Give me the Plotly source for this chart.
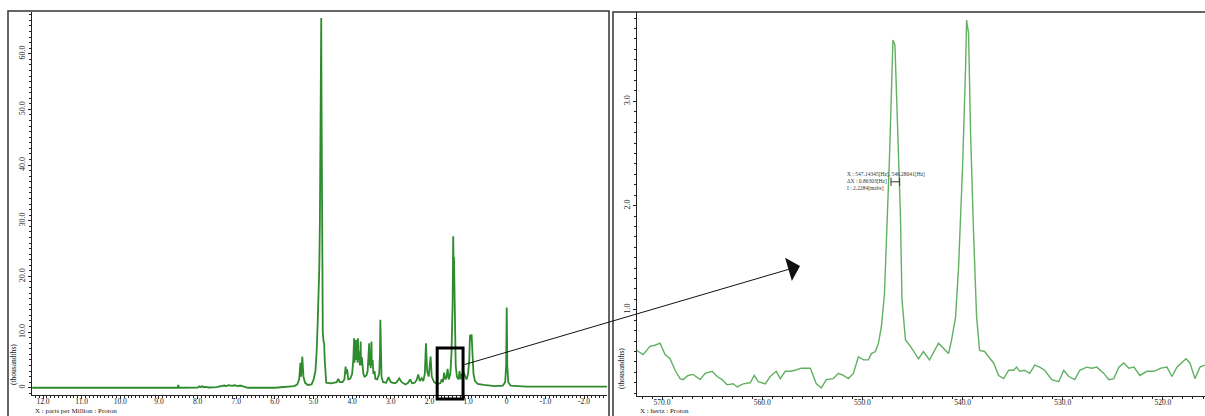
import plotly.graph_objects as go

# ---------------- data ----------------
# Left panel: full 1H spectrum, x in ppm, y in thousandths
ppm = [12.28, 8.52, 8.50, 8.48, 8.0, 7.95, 7.92, 7.88, 7.85, 7.80, 7.7, 7.5, 7.4, 7.3, 7.25,
       7.2, 7.1, 7.05, 6.95, 6.9, 6.8, 6.7, 6.0, 5.85, 5.8, 5.6, 5.5, 5.42, 5.37, 5.34,
       5.32, 5.29, 5.26, 5.22, 5.15, 5.05, 5.0, 4.95, 4.92, 4.89, 4.87, 4.85, 4.835, 4.825, 4.815,
       4.805, 4.80, 4.795, 4.785, 4.775, 4.76, 4.74, 4.725, 4.71, 4.69, 4.67, 4.55, 4.45, 4.40, 4.36,
       4.32, 4.25, 4.20, 4.17, 4.15, 4.13, 4.10, 4.05, 4.0, 3.97, 3.95, 3.94, 3.92, 3.90, 3.89,
       3.87, 3.86, 3.85, 3.84, 3.82, 3.80, 3.78, 3.77, 3.75, 3.73, 3.71, 3.68, 3.63, 3.60, 3.58,
       3.56, 3.55, 3.53, 3.52, 3.50, 3.49, 3.47, 3.45, 3.42, 3.40, 3.35, 3.30, 3.28, 3.27, 3.26,
       3.24, 3.20, 3.12, 3.06, 3.0, 2.9, 2.85, 2.78, 2.72, 2.62, 2.55, 2.50, 2.45, 2.38, 2.33,
       2.29, 2.25, 2.20, 2.16, 2.12, 2.09, 2.06, 2.02, 1.97, 1.94, 1.88, 1.80, 1.72, 1.68, 1.65,
       1.62, 1.59, 1.56, 1.53, 1.50, 1.46, 1.43, 1.40, 1.385, 1.375, 1.365, 1.355, 1.34, 1.32, 1.29,
       1.25, 1.22, 1.20, 1.18, 1.15, 1.12, 1.08, 1.04, 1.0, 0.97, 0.95, 0.93, 0.91, 0.89, 0.86,
       0.82, 0.75, 0.6, 0.3, 0.1, 0.04, 0.015, 0.0, -0.015, -0.04, -0.1, -0.5, -1.0, -2.0, -2.6]
intensity = [0.0, 0.0, 0.5, 0.0, 0.05, 0.25, 0.1, 0.3, 0.1, 0.15, 0.05, 0.1, 0.3, 0.4, 0.3,
             0.45, 0.35, 0.45, 0.3, 0.4, 0.2, 0.0, 0.0, 0.05, 0.2, 0.2, 0.3, 0.6, 1.5, 4.5,
             2.0, 5.6, 2.0, 0.9, 0.5, 0.6, 1.4, 3.0, 6.3, 12.0, 15.3, 21.8, 30.0, 42.7, 36.0,
             50.0, 66.4, 55.0, 30.0, 15.0, 10.0, 8.2, 8.0, 5.0, 2.5, 0.9, 0.8, 0.9, 1.0, 1.6,
             1.0, 1.0, 1.5, 3.8, 2.5, 3.3, 1.5, 1.6, 2.5, 5.0, 8.9, 4.5, 6.0, 8.6, 5.0,
             7.0, 4.5, 8.9, 5.0, 6.5, 4.0, 8.3, 4.0, 5.5, 3.0, 2.5, 2.0, 2.2, 3.0, 5.0,
             8.0, 4.0, 6.3, 3.5, 8.3, 4.0, 5.0, 2.5, 3.0, 1.6, 1.5, 2.5, 6.0, 12.2, 5.0,
             2.0, 1.0, 0.9, 1.9, 1.0, 0.8, 1.0, 1.7, 1.0, 0.6, 0.9, 1.5, 0.8, 0.9, 1.4,
             2.4, 1.2, 1.7, 1.2, 2.5, 8.0, 3.0, 2.0, 5.6, 2.0, 1.0, 0.7, 0.8, 1.5, 1.0,
             2.7, 1.5, 1.8, 3.4, 1.5, 2.5, 6.0, 15.0, 27.2, 22.0, 23.5, 18.0, 8.0, 4.0, 2.0,
             1.5, 3.0, 1.5, 2.5, 1.7, 2.8, 2.0, 1.5, 2.5, 5.0, 9.5, 8.5, 9.6, 6.0, 2.5,
             1.2, 0.7, 0.5, 0.3, 0.4, 1.0, 4.0, 14.4, 4.0, 1.0, 0.4, 0.2, 0.2, 0.2, 0.2]

# Right panel: expanded region, x in Hz, y in thousandths
hz = [572.5, 571.9, 571.2, 570.7, 570.2, 569.7, 569.2, 568.7, 568.2, 567.9, 567.4, 566.9, 566.2,
      565.7, 565.0, 564.5, 564.0, 563.5, 562.9, 562.5, 561.9, 561.2, 560.8, 560.4, 559.7, 559.2,
      558.6, 558.2, 557.7, 557.2, 556.7, 556.1, 555.2, 554.9, 554.6, 554.1, 553.6, 552.9, 552.4,
      551.9, 551.4, 550.9, 550.4, 549.9, 549.4, 549.1, 548.7, 548.4, 548.1, 547.8, 547.55, 547.3,
      547.1, 546.95, 546.75, 546.55, 546.35, 546.2, 546.05, 545.7, 545.2, 544.4, 543.9, 543.3,
      542.4, 541.9, 541.4, 541.1, 540.7, 540.4, 540.0, 539.7, 539.6, 539.4, 539.2, 538.9, 538.6,
      538.3, 537.8, 537.4, 536.9, 536.4, 535.9, 535.4, 534.9, 534.6, 534.3, 533.8, 533.3, 532.8,
      532.3, 531.8, 531.1, 530.4, 529.9, 529.4, 528.8, 528.3, 527.6, 527.1, 526.6, 525.9, 525.4,
      524.9, 524.4, 523.9, 523.4, 522.9, 522.3, 521.6, 520.9, 520.2, 519.6, 519.1, 518.6, 517.7,
      517.3, 516.8, 516.3, 515.8]
hz_intensity = [0.61, 0.57, 0.65, 0.66, 0.68, 0.57, 0.53, 0.42, 0.34, 0.33, 0.37, 0.38, 0.33,
                0.39, 0.41, 0.36, 0.33, 0.28, 0.29, 0.26, 0.29, 0.30, 0.37, 0.31, 0.29, 0.36,
                0.41, 0.34, 0.41, 0.41, 0.42, 0.44, 0.44, 0.37, 0.29, 0.25, 0.33, 0.34, 0.39,
                0.37, 0.34, 0.39, 0.55, 0.52, 0.52, 0.58, 0.60, 0.68, 0.84, 1.15, 1.75, 2.45,
                3.10, 3.59, 3.54, 3.0, 2.4, 1.9, 1.1, 0.71, 0.65, 0.53, 0.60, 0.52,
                0.68, 0.63, 0.58, 0.71, 0.93, 1.41, 2.37, 3.33, 3.78, 3.65, 2.69, 1.73, 0.93,
                0.61, 0.60, 0.55, 0.49, 0.37, 0.34, 0.42, 0.42, 0.45, 0.41, 0.42, 0.39, 0.47,
                0.45, 0.42, 0.33, 0.31, 0.42, 0.36, 0.33, 0.42, 0.45, 0.44, 0.45, 0.39, 0.33,
                0.34, 0.45, 0.49, 0.44, 0.45, 0.37, 0.41, 0.41, 0.44, 0.45, 0.36, 0.45, 0.53,
                0.49, 0.34, 0.45, 0.47]

left_tickvals = [12, 11, 10, 9, 8, 7, 6, 5, 4, 3, 2, 1, 0, -1, -2]
left_ticktext = ["12.0", "11.0", "10.0", "9.0", "8.0", "7.0", "6.0", "5.0", "4.0", "3.0",
                 "2.0", "1.0", "0", "-1.0", "-2.0"]
left_yvals = [0, 10, 20, 30, 40, 50, 60]
left_ytext = ["0", "10.0", "20.0", "30.0", "40.0", "50.0", "60.0"]
right_tickvals = [570, 560, 550, 540, 530, 520]
right_ticktext = ["570.0", "560.0", "550.0", "540.0", "530.0", "520.0"]
right_yvals = [1, 2, 3]
right_ytext = ["1.0", "2.0", "3.0"]

# expansion box (ppm) on the left spectrum
box_ppm = [1.80, 1.13]
# half-height width measurement on the right
meas_x = [547.14345, 546.28041]
meas_i = 2.2284
meas_text = "X : 547.14345[Hz], 546.28041[Hz]<br>ΔX : 0.86303[Hz]<br>I : 2.2284[mabs]"

left_xtitle = "X : parts per Million : Proton"
right_xtitle = "X : hertz : Proton"
ytitle = "(thousandths)"

# ---------------- figure ----------------
W, H = 1205, 416
FONT = "Liberation Serif"
INK = "#222222"

fig = go.Figure()
fig.add_trace(go.Scatter(x=ppm, y=intensity, mode="lines",
                         line=dict(color="#2e8b2e", width=1.8), xaxis="x", yaxis="y",
                         showlegend=False, hoverinfo="skip"))
fig.add_trace(go.Scatter(x=hz, y=hz_intensity, mode="lines",
                         line=dict(color="#62b062", width=1.4), xaxis="x2", yaxis="y2",
                         showlegend=False, hoverinfo="skip"))

def px(x):
    return x / W

def py(y):
    return 1 - y / H

axis_common = dict(showline=True, linecolor=INK, linewidth=1, ticks="outside",
                   tickcolor=INK, showgrid=False, zeroline=False, tickmode="array")
xfont = dict(family=FONT, size=7.5, color=INK)
yfont = dict(family=FONT, size=8, color=INK)

fig.update_layout(
    width=W, height=H, margin=dict(l=0, r=0, t=0, b=0),
    paper_bgcolor="white", plot_bgcolor="white", showlegend=False,
    xaxis=dict(domain=[px(32), px(607)], range=[12.285, -2.595], anchor="y",
               tickvals=left_tickvals, ticktext=left_ticktext, ticklen=3,
               ticklabelstandoff=-4, tickfont=xfont,
               minor=dict(dtick=0.1, tick0=0, ticklen=2, ticks="outside", tickcolor=INK),
               **axis_common),
    yaxis=dict(domain=[py(395), py(12)], range=[-1.3, 67.5], anchor="x",
               tickvals=left_yvals, ticktext=left_ytext, tickangle=-90, ticklen=3,
               tickfont=yfont,
               minor=dict(dtick=1, tick0=0, ticklen=2, ticks="outside", tickcolor=INK),
               **axis_common),
    xaxis2=dict(domain=[px(637), 1.0], range=[572.5, 515.8], anchor="y2",
                tickvals=right_tickvals, ticktext=right_ticktext, ticklen=3,
                ticklabelstandoff=-4, tickfont=xfont,
                minor=dict(dtick=1, tick0=0, ticklen=2, ticks="outside", tickcolor=INK),
                **axis_common),
    yaxis2=dict(domain=[py(396), py(12)], range=[0.173, 3.858], anchor="x2",
                tickvals=right_yvals, ticktext=right_ytext, tickangle=-90, ticklen=3,
                tickfont=yfont,
                minor=dict(dtick=0.1, tick0=0, ticklen=2, ticks="outside", tickcolor=INK),
                **axis_common),
)

shapes = [
    # panel frames
    dict(type="rect", xref="paper", yref="paper", x0=px(8), x1=px(609), y0=-0.05, y1=py(11),
         line=dict(color="#333333", width=1.5), layer="above"),
    dict(type="rect", xref="paper", yref="paper", x0=px(613), x1=1.05, y0=-0.05, y1=py(12),
         line=dict(color="#333333", width=1.5), layer="above"),
    # expansion box
    dict(type="rect", xref="x", yref="paper", x0=box_ppm[0], x1=box_ppm[1],
         y0=py(399), y1=py(348), line=dict(color="black", width=3), layer="above"),
    # measurement bracket
    dict(type="line", xref="x2", yref="y2", x0=meas_x[0], x1=meas_x[1], y0=meas_i, y1=meas_i,
         line=dict(color="#333333", width=1)),
    dict(type="line", xref="x2", yref="y2", x0=meas_x[0], x1=meas_x[0], y0=meas_i - 0.04,
         y1=meas_i + 0.04, line=dict(color="#333333", width=1)),
    dict(type="line", xref="x2", yref="y2", x0=meas_x[1], x1=meas_x[1], y0=meas_i - 0.04,
         y1=meas_i + 0.04, line=dict(color="#333333", width=1)),
]
fig.update_layout(shapes=shapes)

annotations = [
    dict(xref="paper", yref="paper", x=px(800), y=py(266), text="", showarrow=True,
         axref="pixel", ayref="pixel", ax=463 - 800, ay=365 - 266,
         arrowhead=1, arrowsize=4, arrowwidth=1, arrowcolor="#111111"),
    dict(xref="paper", yref="paper", x=px(845), y=py(169), text=meas_text, showarrow=False,
         xanchor="left", yanchor="top", align="left",
         font=dict(family=FONT, size=5.5, color="#333333")),
    dict(xref="paper", yref="paper", x=px(34), y=0, text=left_xtitle, showarrow=False,
         xanchor="left", yanchor="bottom", borderpad=0,
         font=dict(family=FONT, size=7, color=INK)),
    dict(xref="paper", yref="paper", x=px(639), y=0, text=right_xtitle, showarrow=False,
         xanchor="left", yanchor="bottom", borderpad=0,
         font=dict(family=FONT, size=7, color=INK)),
    dict(xref="paper", yref="paper", x=px(13), y=py(365), text=ytitle, showarrow=False,
         textangle=-90, xanchor="center", yanchor="middle",
         font=dict(family=FONT, size=7.5, color=INK)),
    dict(xref="paper", yref="paper", x=px(621), y=py(368), text=ytitle, showarrow=False,
         textangle=-90, xanchor="center", yanchor="middle",
         font=dict(family=FONT, size=7.5, color=INK)),
]
fig.update_layout(annotations=annotations)

fig.write_html("out.html")
